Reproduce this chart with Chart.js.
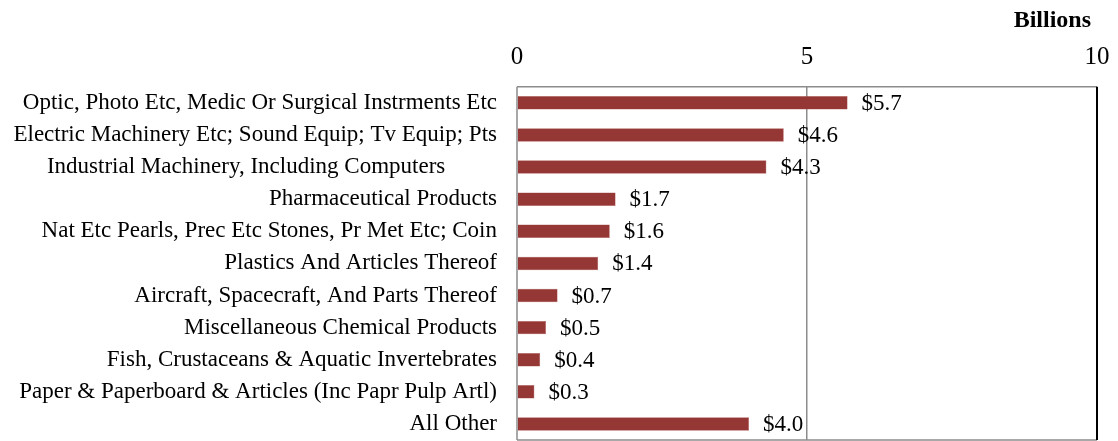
<!DOCTYPE html>
<html lang="en">
<head>
  <meta charset="UTF-8" />
  <title>Top Exports by Category</title>
  <script src="https://cdn.jsdelivr.net/npm/chart.js"></script>
  <style>
    body {
      margin: 0;
      background: #ffffff;
    }
    #wrap {
      width: 1118px;
      height: 441px;
    }
  </style>
</head>
<body>
  <div id="wrap"><canvas id="exportChart" width="1118" height="441"></canvas></div>

  <script>
    const categories = [
      'Optic, Photo Etc, Medic Or Surgical Instrments Etc',
      'Electric Machinery Etc; Sound Equip; Tv Equip; Pts',
      'Industrial Machinery, Including Computers         ',
      'Pharmaceutical Products',
      'Nat Etc Pearls, Prec Etc Stones, Pr Met Etc; Coin',
      'Plastics And Articles Thereof',
      'Aircraft, Spacecraft, And Parts Thereof',
      'Miscellaneous Chemical Products',
      'Fish, Crustaceans & Aquatic Invertebrates',
      'Paper & Paperboard & Articles (Inc Papr Pulp Artl)',
      'All Other'
    ];
    const exportValues = [5.7, 4.6, 4.3, 1.7, 1.6, 1.4, 0.7, 0.5, 0.4, 0.3, 4.0];
    const axisTicks = [0, 5, 10];

    const serif = "'Liberation Serif', 'Times New Roman', serif";

    // value labels to the right of each bar
    const barLabels = {
      id: 'barLabels',
      afterDatasetsDraw(chart) {
        const ctx = chart.ctx;
        const meta = chart.getDatasetMeta(0);
        ctx.save();
        ctx.font = '23px ' + serif;
        ctx.fillStyle = '#000';
        ctx.textAlign = 'left';
        ctx.textBaseline = 'middle';
        meta.data.forEach((bar, i) => {
          ctx.fillText('$' + exportValues[i].toFixed(1), bar.x + 14, bar.y + 1);
        });
        ctx.restore();
      }
    };

    // frame around the plot area
    const plotFrame = {
      id: 'plotFrame',
      afterDraw(chart) {
        const { left, right, top, bottom } = chart.chartArea;
        const ctx = chart.ctx;
        ctx.save();
        ctx.strokeStyle = '#8c8c8c';
        ctx.lineWidth = 1.5;
        ctx.beginPath();
        ctx.moveTo(left, top);
        ctx.lineTo(right, top);
        ctx.moveTo(left, top);
        ctx.lineTo(left, bottom);
        ctx.moveTo(left, bottom);
        ctx.lineTo(right, bottom);
        ctx.stroke();
        ctx.strokeStyle = '#000';
        ctx.lineWidth = 2;
        ctx.beginPath();
        ctx.moveTo(right, top);
        ctx.lineTo(right, bottom);
        ctx.stroke();
        ctx.restore();
      }
    };

    new Chart(document.getElementById('exportChart'), {
      type: 'bar',
      data: {
        labels: categories,
        datasets: [{
          data: exportValues,
          backgroundColor: '#953735',
          borderColor: '#b4615f',
          borderWidth: 0.5,
          barPercentage: 0.42,
          categoryPercentage: 1.0
        }]
      },
      options: {
        indexAxis: 'y',
        responsive: false,
        animation: false,
        layout: { padding: { top: 6, right: 21, bottom: 1, left: 0 } },
        plugins: {
          legend: { display: false },
          tooltip: { enabled: false }
        },
        scales: {
          x: {
            position: 'top',
            min: axisTicks[0],
            max: axisTicks[axisTicks.length - 1],
            afterBuildTicks(scale) {
              scale.ticks = axisTicks.map(v => ({ value: v }));
            },
            afterFit(scale) {
              // tighten the gap between the title and the tick labels
              scale.height -= 14;
              scale.paddingRight = 0;
            },
            ticks: {
              color: '#000',
              font: { family: serif, size: 25 },
              padding: 14
            },
            grid: {
              drawTicks: false,
              color: c => (c.tick && c.tick.value === 5 ? '#8c8c8c' : 'rgba(0,0,0,0)'),
              lineWidth: 1.5
            },
            border: { display: false },
            title: {
              display: true,
              text: 'Billions ',
              align: 'end',
              color: '#000',
              font: { family: serif, size: 24, weight: 'bold' },
              padding: { top: 0, bottom: 8 }
            }
          },
          y: {
            afterFit(scale) {
              scale.width = 517;
              scale.paddingTop = 0;
              scale.paddingBottom = 0;
            },
            ticks: {
              color: '#000',
              font: { family: serif, size: 23 },
              padding: 20
            },
            grid: { display: false, drawTicks: false },
            border: { display: false }
          }
        }
      },
      plugins: [barLabels, plotFrame]
    });
  </script>
</body>
</html>
